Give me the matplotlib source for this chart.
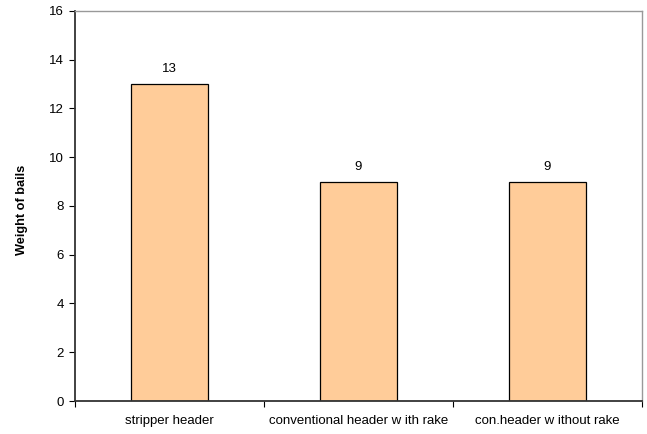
import numpy as np
import matplotlib.pyplot as plt

plt.rcParams['font.family'] = ['Liberation Sans', 'DejaVu Sans']

headers = ['stripper header', 'conventional header w ith rake', 'con.header w ithout rake']
weights = [13, 9, 9]

fig = plt.figure(figsize=(6.47, 4.34), dpi=100)
ax = fig.add_axes([0.116, 0.076, 0.876, 0.899])

x = np.arange(len(headers))
ax.bar(x, weights, width=0.41, color='#ffcc99', edgecolor='black', linewidth=0.9)
for xi, w in zip(x, weights):
    ax.text(xi, w + 0.35, str(w), ha='center', va='bottom', fontsize=9.5)

ax.set_xlim(-0.5, len(headers) - 0.5)
ax.set_ylim(0, 16)
ax.set_yticks(range(0, 17, 2))

# category ticks sit on the boundaries, labels in the middle
ax.set_xticks(np.arange(-0.5, len(headers), 1.0))
ax.set_xticklabels([])
ax.set_xticks(x, minor=True)
ax.set_xticklabels(headers, minor=True)
ax.tick_params(axis='x', which='minor', length=0, pad=10, labelsize=9.5)
ax.tick_params(axis='x', which='major', length=4, width=0.8, direction='out')
ax.tick_params(axis='y', length=4, width=0.8, direction='out', labelsize=9.5, pad=4)

ax.set_ylabel('Weight of bails', fontsize=9.2, fontweight='bold')
ax.yaxis.set_label_coords(-0.083, 0.49)

for side in ['left', 'bottom']:
    ax.spines[side].set_color('#333333')
    ax.spines[side].set_linewidth(1.3)
for side in ['top', 'right']:
    ax.spines[side].set_color('#999999')
    ax.spines[side].set_linewidth(1.0)

fig.savefig('out.png', dpi=100)
